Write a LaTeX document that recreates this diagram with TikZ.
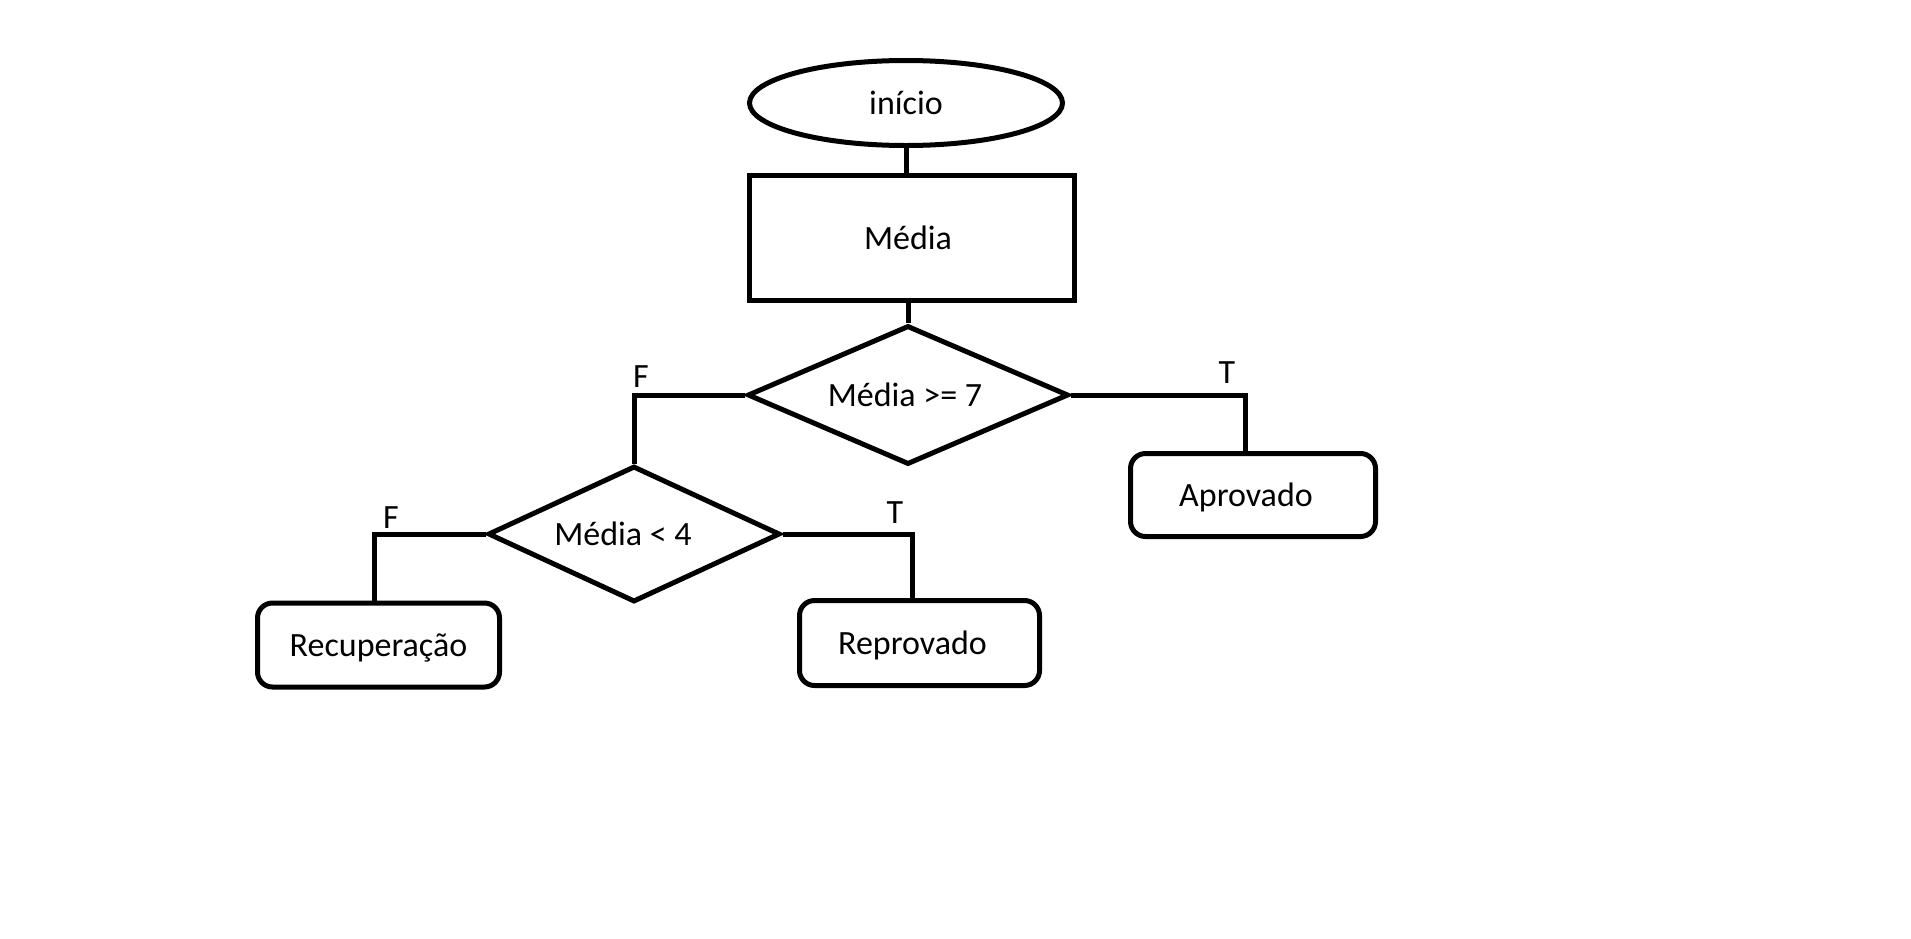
\documentclass[tikz,border=0pt]{standalone}
\usepackage{fontspec}
\setmainfont{Carlito}
\usetikzlibrary{shapes.geometric}
\begin{document}
\begin{tikzpicture}[x=1pt,y=-1pt,
  every node/.style={font=\fontsize{34}{40}\selectfont, text height=22pt, text depth=0pt, inner sep=0pt},
  line/.style={line width=5pt},
  terminal/.style={ellipse, draw, line width=5pt, minimum width=313pt, minimum height=85pt},
  process/.style={rectangle, draw, line width=5pt, minimum width=325pt, minimum height=125pt},
  decision/.style={diamond, draw, line width=5pt, shape aspect=2.3},
  result/.style={rectangle, rounded corners=15pt, draw, line width=5pt, minimum width=242pt, minimum height=84pt},
  branch/.style={anchor=base}
]
\fill[white] (0,0) rectangle (1911,938);
\useasboundingbox (0,0) rectangle (1911,938);

% shapes
\node[terminal] (start) at (906,103) {};
\node[process] (media) at (912,238) {};
\node[decision, minimum width=321pt, minimum height=139pt] (d1) at (908,395) {};
\node[decision, minimum width=292pt, minimum height=136pt] (d2) at (634,534) {};
\node[result, minimum width=245pt, minimum height=83pt] (aprov) at (1253,495) {};
\node[result] (recup) at (378.5,645) {};
\node[result, minimum width=240pt, minimum height=85pt] (reprov) at (919.5,643) {};

% texts inside the shapes
\node (startText) at (start.center) {início};
\node (mediaText) at ([xshift=-4pt]media.center) {Média};
\node (d1Text) at ([xshift=-3pt]d1.center) {Média >= 7};
\node (d2Text) at ([xshift=-11pt]d2.center) {Média < 4};
\node (aprovText) at ([xshift=-7pt]aprov.center) {Aprovado};
\node (recupText) at (recup.center) {Recuperação};
\node (reprovText) at ([xshift=-7pt]reprov.center) {Reprovado};

% branch labels
\node[branch] (f1) at (641,387) {F};
\node[branch] (t1) at (1227,383) {T};
\node[branch] (f2) at (391,528) {F};
\node[branch] (t2) at (895,523) {T};

% connectors
\draw[line] (start.south) -- (start.south |- media.north);
\draw[line] (d1.north) -- (d1.north |- media.south);
\draw[line] (d1.west) -| (d2.north);
\draw[line] (d1.east) -| ([xshift=-8pt]aprov.north);
\draw[line] (d2.west) -| ([xshift=-4pt]recup.north);
\draw[line] (d2.east) -| ([xshift=-7.5pt]reprov.north);
\end{tikzpicture}
\end{document}
